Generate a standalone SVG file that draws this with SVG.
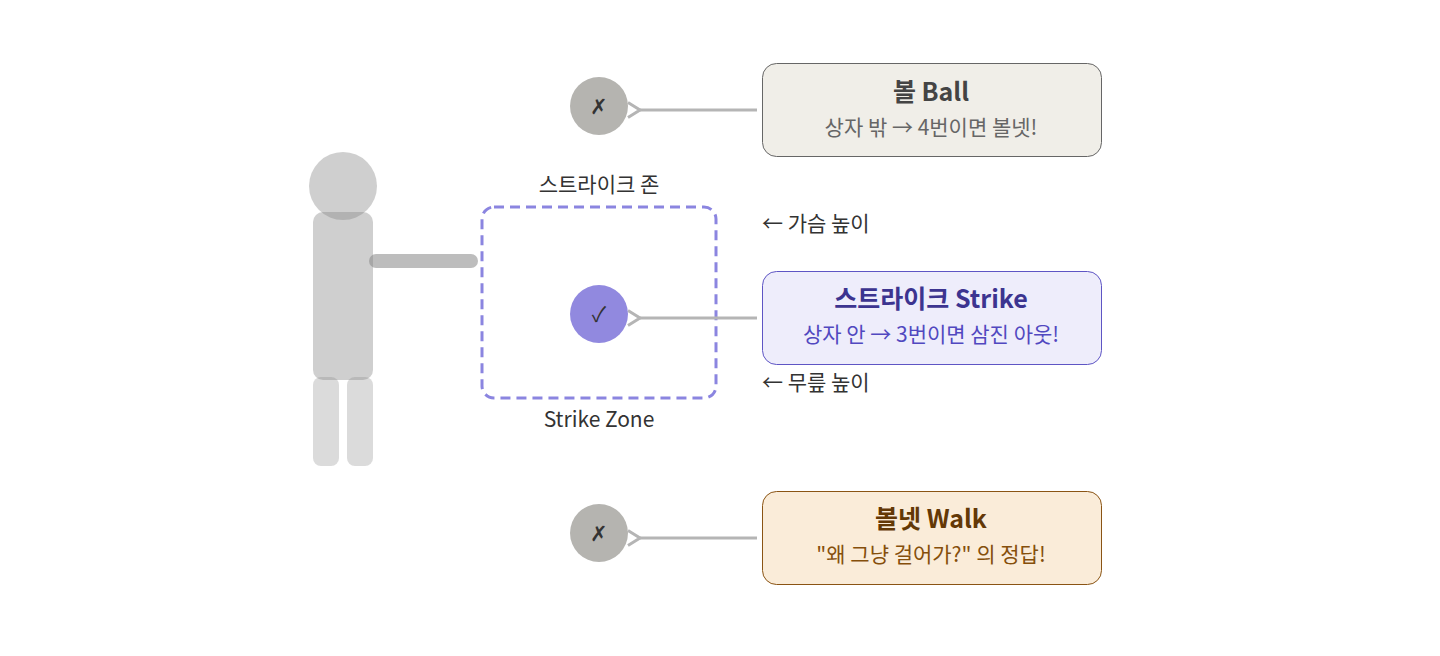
<svg xmlns="http://www.w3.org/2000/svg" width="1440" height="656" viewBox="0 0 1440 656">
<style>
text{font-family:"Noto Sans CJK KR","Noto Sans",sans-serif}
.t{font-size:25px;font-weight:bold;text-anchor:middle}
.s{font-size:21px;text-anchor:middle}
.l{font-size:21px;fill:#333}
.c{stroke:#b5b5b5;stroke-width:3;fill:none;marker-end:url(#a)}
.m{font-size:21px;fill:#333;text-anchor:middle}
</style>
<defs><marker id="a" viewBox="0 0 12 12" refX="2" refY="6" markerWidth="6" markerHeight="6" orient="auto"><path d="M10 1L2 6L10 11" fill="none" stroke="#b5b5b5" stroke-width="2"/></marker></defs>
<rect width="1440" height="656" fill="#fff"/>
<g id="batter">
<rect x="313" y="377" width="26" height="89" rx="8" fill="#878787" opacity="0.3"/>
<rect x="347" y="377" width="26" height="89" rx="8" fill="#878787" opacity="0.3"/>
<circle cx="343" cy="186" r="34" fill="#878787" opacity="0.4"/>
<rect x="313" y="212" width="60" height="168" rx="10" fill="#878787" opacity="0.4"/>
<rect x="369" y="254" width="109" height="14" rx="7" fill="#878787" opacity="0.55"/>
</g>
<g id="zone">
<rect x="482" y="207" width="234" height="191" rx="12" fill="none" stroke="#8b85e0" stroke-width="3" stroke-dasharray="10 6"/>
<text class="m" x="599" y="192">스트라이크 존</text>
<text class="m" x="599" y="427">Strike Zone</text>
</g>
<text class="l" x="762" y="231">← 가슴 높이</text>
<text class="l" x="762" y="390">← 무릎 높이</text>
<g id="connectors">
<line class="c" x1="757" y1="110" x2="640" y2="110"/>
<line class="c" x1="757" y1="318" x2="640" y2="318"/>
<line class="c" x1="757" y1="538" x2="640" y2="538"/>
</g>
<g id="ballDot"><circle cx="599" cy="106" r="29" fill="#b5b4b0"/><text class="m" x="599" y="114">✗</text></g>
<g id="strikeDot"><circle cx="599" cy="314" r="29" fill="#9189df"/><text class="m" x="599" y="322">✓</text></g>
<g id="walkDot"><circle cx="599" cy="533" r="29" fill="#b5b4b0"/><text class="m" x="599" y="541">✗</text></g>
<g id="ball"><rect x="762.5" y="63.5" width="339" height="93" rx="14" fill="#f0eee8" stroke="#666"/>
<text class="t" x="931" y="101" fill="#444">볼 Ball</text><text class="s" x="931" y="135" fill="#666">상자 밖 → 4번이면 볼넷!</text></g>
<g id="strike"><rect x="762.5" y="271.5" width="339" height="93" rx="14" fill="#eeedfb" stroke="#5e55c4"/>
<text class="t" x="931" y="308" fill="#3c3490">스트라이크 Strike</text><text class="s" x="931" y="342" fill="#5148c0">상자 안 → 3번이면 삼진 아웃!</text></g>
<g id="walk"><rect x="762.5" y="491.5" width="339" height="93" rx="14" fill="#faecd9" stroke="#8a5414"/>
<text class="t" x="931" y="528" fill="#633806">볼넷 Walk</text><text class="s" x="931" y="562" fill="#854f0b">"왜 그냥 걸어가?" 의 정답!</text></g>
</svg>
